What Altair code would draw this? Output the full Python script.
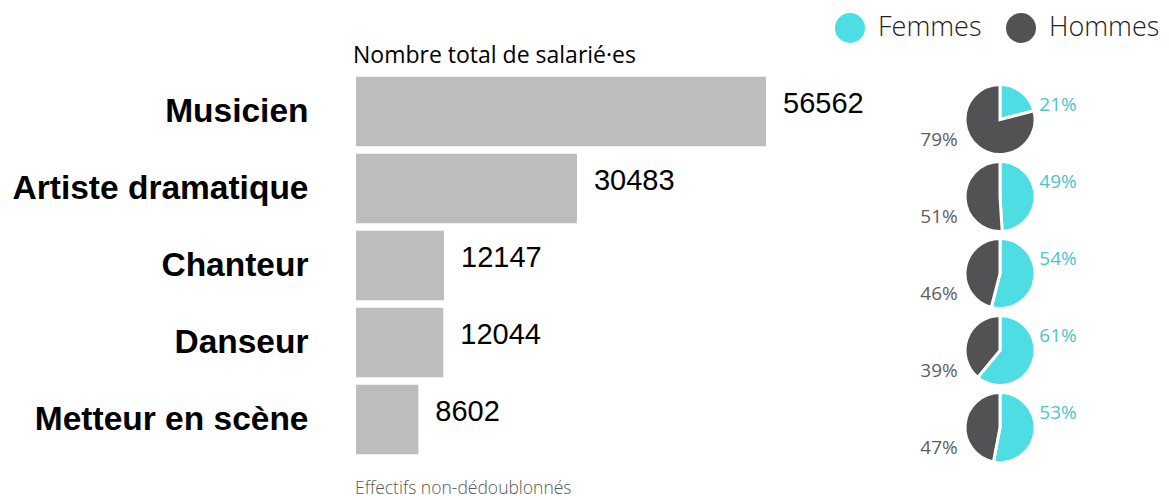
import altair as alt
import pandas as pd

categories = ["Musicien", "Artiste dramatique", "Chanteur", "Danseur", "Metteur en scène"]
totals = [56562, 30483, 12147, 12044, 8602]
femmes_pct = [21, 49, 54, 61, 53]
hommes_pct = [79, 51, 46, 39, 47]
genders = ["Femmes", "Hommes"]
title_text = "Nombre total de salarié·es"
footer_text = "Effectifs non-dédoublonnés"

bars_df = pd.DataFrame({"cat": categories, "total": totals})

rows = []
for c, f, h in zip(categories, femmes_pct, hommes_pct):
    rows.append({"cat": c, "genre": "Femmes", "pct": f, "start": 0, "end": f, "label": f"{f}%"})
    rows.append({"cat": c, "genre": "Hommes", "pct": h, "start": f, "end": f + h, "label": f"{h}%"})
pie_df = pd.DataFrame(rows)

ysc = alt.Scale(domain=categories, paddingInner=0.1, paddingOuter=0.05)
yenc = alt.Y("cat:N", scale=ysc, sort=categories,
             axis=alt.Axis(title=None, ticks=False, domain=False, labelPadding=48,
                           labelFont="Liberation Sans", labelFontWeight="bold",
                           labelFontSize=33.5, labelColor="#000000", labelLimit=500))

bars = alt.Chart(bars_df).mark_bar(color="#BDBDBD").encode(
    x=alt.X("total:Q", scale=alt.Scale(domain=[0, max(totals)], nice=False, zero=True), axis=None),
    y=yenc,
)
nums = alt.Chart(bars_df).mark_text(align="left", baseline="middle", dx=17, dy=-8,
                                    font="Liberation Sans", fontSize=29, color="#000000").encode(
    x=alt.X("total:Q"),
    y=alt.Y("cat:N", sort=categories),
    text=alt.Text("total:Q", format="d"),
)

PIE_X = 644
pies = alt.Chart(pie_df).mark_arc(radius=35, yOffset=8, stroke="white", strokeWidth=3).encode(
    x=alt.value(PIE_X),
    y=alt.Y("cat:N", sort=categories),
    theta=alt.Theta("start:Q", scale=alt.Scale(domain=[0, 100], range=[0, 6.283185307]), stack=None),
    theta2=alt.Theta2("end:Q"),
    color=alt.Color("genre:N", scale=alt.Scale(domain=genders, range=["#4DDDE3", "#525255"]),
                    legend=alt.Legend(title=None, orient="none", legendX=479, legendY=-60,
                                      direction="horizontal", symbolType="circle", symbolSize=900,
                                      symbolStrokeWidth=0, symbolOpacity=1,
                                      labelFont="Open Sans", labelFontSize=27, labelFontWeight=300,
                                      labelColor="#222222", labelOffset=13, columnPadding=24,
                                      labelLimit=300)),
)

fem_lab = alt.Chart(pie_df).transform_filter(alt.datum.genre == "Femmes").mark_text(
    align="center", baseline="middle", dx=58, dy=-7, font="Open Sans", fontSize=19,
    color="#4CC4CC").encode(
    x=alt.value(PIE_X), y=alt.Y("cat:N", sort=categories), text="label:N")
hom_lab = alt.Chart(pie_df).transform_filter(alt.datum.genre == "Hommes").mark_text(
    align="center", baseline="middle", dx=-61, dy=28, font="Open Sans", fontSize=19,
    color="#5E5E5E").encode(
    x=alt.value(PIE_X), y=alt.Y("cat:N", sort=categories), text="label:N")

title = alt.Chart(pd.DataFrame({"t": [title_text]})).mark_text(
    align="left", baseline="middle", font="Open Sans", fontSize=23, color="#000000").encode(
    x=alt.value(-3), y=alt.value(-17), text="t:N")
footer = alt.Chart(pd.DataFrame({"t": [footer_text]})).mark_text(
    align="left", baseline="middle", font="Open Sans", fontSize=17.5, fontWeight=300,
    color="#595959").encode(
    x=alt.value(-1), y=alt.value(416), text="t:N")

chart = alt.layer(bars, nums, pies, fem_lab, hom_lab, title, footer).properties(
    width=410, height=385,
    padding={"left": 348, "top": 65, "right": 395, "bottom": 42},
    autosize=alt.AutoSizeParams(type="none"),
).configure_view(stroke=None)

chart.save("out.html", embed_options={"renderer": "svg", "actions": False})
